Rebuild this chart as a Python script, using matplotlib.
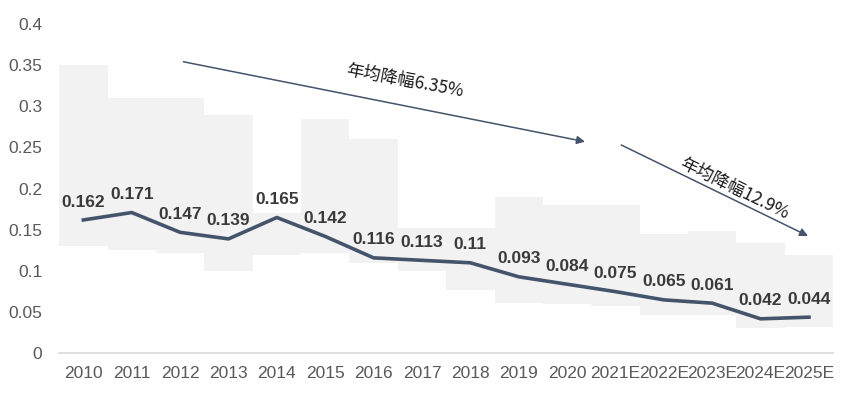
import numpy as np
import matplotlib
matplotlib.use("Agg")
import matplotlib.pyplot as plt

plt.rcParams['font.family'] = ['Liberation Sans', 'Noto Sans CJK SC', 'DejaVu Sans']

# Chart data
years = ["2010", "2011", "2012", "2013", "2014", "2015", "2016", "2017",
         "2018", "2019", "2020", "2021E", "2022E", "2023E", "2024E", "2025E"]
values = [0.162, 0.171, 0.147, 0.139, 0.165, 0.142, 0.116, 0.113,
          0.11, 0.093, 0.084, 0.075, 0.065, 0.061, 0.042, 0.044]
band_low = [0.130, 0.126, 0.122, 0.100, 0.120, 0.122, 0.110, 0.100,
            0.077, 0.061, 0.060, 0.057, 0.047, 0.047, 0.031, 0.032]
band_high = [0.350, 0.310, 0.310, 0.290, 0.170, 0.285, 0.260, 0.152,
             0.152, 0.190, 0.180, 0.180, 0.145, 0.148, 0.134, 0.120]
y_ticks = [0, 0.05, 0.1, 0.15, 0.2, 0.25, 0.3, 0.35, 0.4]
y_tick_labels = ["0", "0.05", "0.1", "0.15", "0.2", "0.25", "0.3", "0.35", "0.4"]

line_color = "#44546A"
text_color = "#3a3a3a"
tick_color = "#595959"

fig = plt.figure(figsize=(8.45, 3.98), dpi=100)
ax = fig.add_axes([0.070, 0.112, 0.916, 0.828])

x = np.arange(len(years))
low = np.array(band_low)
high = np.array(band_high)

# floating gray range bars
ax.bar(x, high - low, bottom=low, width=1.0, color="#f2f2f2", zorder=1)

# main line
ax.plot(x, values, color=line_color, linewidth=2.6, zorder=3, solid_joinstyle="round")

# value labels
for xi, v in zip(x, values):
    ax.annotate(f"{v:g}", (xi, v), xytext=(0, 7.5), textcoords="offset points",
                ha="center", va="bottom", fontsize=12.5, fontweight="bold",
                color=text_color, zorder=4)

# trend arrows
ax.annotate("", xy=(10.37, 0.257), xytext=(2.07, 0.354),
            arrowprops=dict(arrowstyle="-|>", color=line_color, lw=1.1,
                            mutation_scale=12, shrinkA=0, shrinkB=0))
ax.annotate("", xy=(14.98, 0.1426), xytext=(11.12, 0.253),
            arrowprops=dict(arrowstyle="-|>", color=line_color, lw=1.1,
                            mutation_scale=12, shrinkA=0, shrinkB=0))
ax.text(6.65, 0.331, "年均降幅6.35%", fontsize=12.5, rotation=-10.5,
        ha="center", va="center", color="#1a1a1a",
        family=['Noto Sans CJK SC', 'DejaVu Sans'], rotation_mode="anchor")
ax.text(13.45, 0.2, "年均降幅12.9%", fontsize=12.5, rotation=-26,
        ha="center", va="center", color="#1a1a1a",
        family=['Noto Sans CJK SC', 'DejaVu Sans'], rotation_mode="anchor")

ax.set_xlim(-0.5, len(years) - 0.5)
ax.set_ylim(0, 0.4)
ax.set_xticks(x)
ax.set_xticklabels(years)
ax.set_yticks(y_ticks)
ax.set_yticklabels(y_tick_labels)
ax.tick_params(axis="both", length=0, labelsize=12.5, colors=tick_color)
ax.tick_params(axis="y", pad=12)
ax.tick_params(axis="x", pad=9)

for side in ["top", "right", "left"]:
    ax.spines[side].set_visible(False)
ax.spines["bottom"].set_color("#d9d9d9")
ax.spines["bottom"].set_linewidth(1.2)

fig.savefig("out.png", dpi=100)
